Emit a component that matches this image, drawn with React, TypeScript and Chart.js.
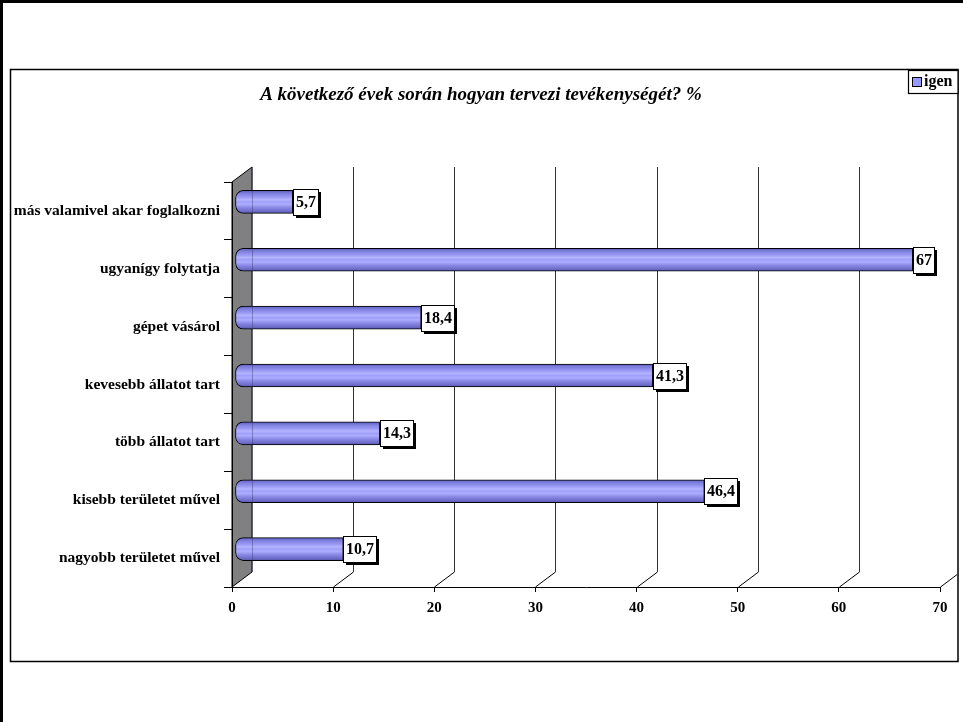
import React, { useEffect, useRef } from 'react';
import { Chart, registerables } from 'chart.js';

Chart.register(...registerables);

// ---- data ----
const categories = [
  'más valamivel akar foglalkozni',
  'ugyanígy folytatja',
  'gépet vásárol',
  'kevesebb állatot tart',
  'több állatot tart',
  'kisebb területet művel',
  'nagyobb területet művel',
];
const values = [5.7, 67, 18.4, 41.3, 14.3, 46.4, 10.7];
const seriesName = 'igen';
const chartTitle = 'A következő évek során hogyan tervezi tevékenységét? %';
const xMin = 0;
const xMax = 70;
const xStep = 10;

// ---- layout / style ----
const W = 963;
const H = 722;
const DEPTH_X = 20;
const DEPTH_Y = -15;
const BAR_DX = 3;
const BAR_DY = -9;
const BAR_H = 23;
const FONT = '"Liberation Serif", "Times New Roman", serif';

const fmt = (v: number) => String(v).replace('.', ',');

const deco = {
  id: 'deco',
  beforeDraw(chart: any) {
    const ctx = chart.ctx as CanvasRenderingContext2D;
    const { left, top, bottom } = chart.chartArea;
    const xs = chart.scales.x;
    ctx.save();
    ctx.fillStyle = '#fff';
    ctx.fillRect(0, 0, W, H);
    // outer frame
    ctx.strokeStyle = '#000';
    ctx.lineWidth = 3;
    ctx.beginPath();
    ctx.moveTo(1.5, H);
    ctx.lineTo(1.5, 1.5);
    ctx.lineTo(W, 1.5);
    ctx.stroke();
    // inner chart box
    ctx.lineWidth = 1.5;
    ctx.strokeRect(10.5, 69.5, 947.5, 592);

    // back wall grid lines and floor diagonals (clipped to the box)
    ctx.save();
    ctx.beginPath();
    ctx.rect(11, 70, 946, 590);
    ctx.clip();
    ctx.lineWidth = 1;
    for (let v = xMin + xStep; v <= xMax; v += xStep) {
      const px = Math.round(xs.getPixelForValue(v)) + 0.5;
      ctx.strokeStyle = '#000';
      ctx.beginPath();
      ctx.moveTo(px, bottom);
      ctx.lineTo(px + DEPTH_X, bottom + DEPTH_Y);
      ctx.stroke();
      ctx.strokeStyle = '#333';
      ctx.beginPath();
      ctx.moveTo(px + DEPTH_X, bottom + DEPTH_Y);
      ctx.lineTo(px + DEPTH_X, top + DEPTH_Y);
      ctx.stroke();
    }
    ctx.restore();

    // side wall
    ctx.fillStyle = '#808080';
    ctx.strokeStyle = '#000';
    ctx.lineWidth = 1;
    ctx.beginPath();
    ctx.moveTo(left, top);
    ctx.lineTo(left + DEPTH_X, top + DEPTH_Y);
    ctx.lineTo(left + DEPTH_X, bottom + DEPTH_Y);
    ctx.lineTo(left, bottom);
    ctx.closePath();
    ctx.fill();
    ctx.stroke();

    // title
    ctx.fillStyle = '#000';
    ctx.font = `italic bold 19px ${FONT}`;
    ctx.textAlign = 'center';
    ctx.textBaseline = 'middle';
    ctx.fillText(chartTitle, 481, 95);

    // legend
    ctx.fillStyle = '#fff';
    ctx.fillRect(908, 70, 50, 23);
    ctx.lineWidth = 1.2;
    ctx.strokeStyle = '#000';
    ctx.strokeRect(908.5, 70.5, 49.5, 23);
    ctx.fillStyle = '#9999ff';
    ctx.fillRect(912, 77, 9, 10);
    ctx.lineWidth = 1;
    ctx.strokeRect(912.5, 77.5, 9, 9);
    ctx.fillStyle = '#000';
    ctx.font = `bold 16px ${FONT}`;
    ctx.textAlign = 'left';
    ctx.fillText(seriesName, 924, 82);
    ctx.restore();
  },
  beforeDatasetsDraw(chart: any) {
    chart.ctx.save();
    chart.ctx.translate(BAR_DX, BAR_DY);
  },
  afterDatasetsDraw(chart: any) {
    const ctx = chart.ctx as CanvasRenderingContext2D;
    ctx.restore();
    const { left, top, bottom } = chart.chartArea;
    ctx.save();
    // wall edge seen through the bars
    ctx.strokeStyle = 'rgba(40,40,80,0.35)';
    ctx.lineWidth = 1;
    ctx.beginPath();
    ctx.moveTo(left + DEPTH_X + 0.5, top + DEPTH_Y);
    ctx.lineTo(left + DEPTH_X + 0.5, bottom + DEPTH_Y);
    ctx.stroke();

    const meta = chart.getDatasetMeta(0);
    ctx.font = `bold 16px ${FONT}`;
    meta.data.forEach((bar: any, i: number) => {
      const txt = fmt(values[i]);
      const tw = ctx.measureText(txt).width;
      const bw = Math.round(tw + 5);
      const bh = 26;
      const x = Math.round(bar.x + BAR_DX);
      const y = Math.round(bar.y + BAR_DY - bh / 2);
      ctx.fillStyle = '#000';
      ctx.fillRect(x + 3, y + 3, bw, bh);
      ctx.fillStyle = '#fff';
      ctx.fillRect(x, y, bw, bh);
      ctx.strokeStyle = '#000';
      ctx.lineWidth = 1;
      ctx.strokeRect(x + 0.5, y + 0.5, bw, bh);
      ctx.fillStyle = '#000';
      ctx.textAlign = 'center';
      ctx.textBaseline = 'middle';
      ctx.fillText(txt, x + bw / 2 + 0.5, y + bh / 2 + 1);
    });
    ctx.restore();
  },
};

export default function App() {
  const ref = useRef<HTMLCanvasElement | null>(null);

  useEffect(() => {
    if (!ref.current) return;
    const chart = new Chart(ref.current, {
      type: 'bar',
      data: {
        labels: categories,
        datasets: [
          {
            label: seriesName,
            data: values,
            clip: false as any,
            barThickness: BAR_H,
            borderColor: '#000',
            borderWidth: 1,
            borderSkipped: false,
            borderRadius: { topLeft: 8, bottomLeft: 8, topRight: 0, bottomRight: 0 },
            backgroundColor: (c: any) => {
              const ch = c.chart;
              const ys = ch.scales && ch.scales.y;
              if (!ys || c.dataIndex === undefined) return '#8c8cf0';
              const cy = ys.getPixelForValue(c.dataIndex);
              if (!Number.isFinite(cy)) return '#8c8cf0';
              const t = cy - BAR_H / 2;
              const b = cy + BAR_H / 2;
              const g = ch.ctx.createLinearGradient(0, t, 0, b);
              g.addColorStop(0, '#5a5ab8');
              g.addColorStop(0.12, '#7c7cdc');
              g.addColorStop(0.3, '#9c9cf6');
              g.addColorStop(0.4, '#b4b4ff');
              g.addColorStop(0.5, '#a0a0fa');
              g.addColorStop(0.6, '#acacff');
              g.addColorStop(0.75, '#8888e4');
              g.addColorStop(0.9, '#6e6eca');
              g.addColorStop(1, '#5454aa');
              return g;
            },
          },
        ],
      },
      options: {
        indexAxis: 'y',
        responsive: false,
        animation: false,
        devicePixelRatio: 1,
        layout: { padding: { top: 182, right: 23, bottom: 0, left: 0 } },
        plugins: {
          legend: { display: false },
          title: { display: false },
          tooltip: { enabled: false },
        },
        scales: {
          x: {
            type: 'linear',
            min: xMin,
            max: xMax,
            ticks: {
              stepSize: xStep,
              color: '#000',
              padding: 7,
              font: { family: FONT, size: 15, weight: 'bold' },
            },
            grid: {
              drawOnChartArea: false,
              drawTicks: true,
              tickLength: 5,
              color: '#000',
            },
            border: { display: true, color: '#000', width: 1 },
            afterFit(s: any) {
              s.height = 135;
            },
          },
          y: {
            type: 'category',
            offset: true,
            ticks: {
              color: '#000',
              padding: 4,
              font: { family: FONT, size: 15.5, weight: 'bold' },
            },
            grid: {
              offset: true,
              drawOnChartArea: false,
              drawTicks: true,
              tickLength: 8,
              color: '#000',
            },
            border: { display: true, color: '#000', width: 1 },
            afterFit(s: any) {
              s.width = 232;
            },
          },
        },
      },
      plugins: [deco],
    } as any);
    return () => chart.destroy();
  }, []);

  return (
    <div style={{ position: 'absolute', left: 0, top: 0, width: W, height: H, background: '#fff' }}>
      <canvas ref={ref} width={W} height={H} style={{ display: 'block', width: W, height: H }} />
    </div>
  );
}
